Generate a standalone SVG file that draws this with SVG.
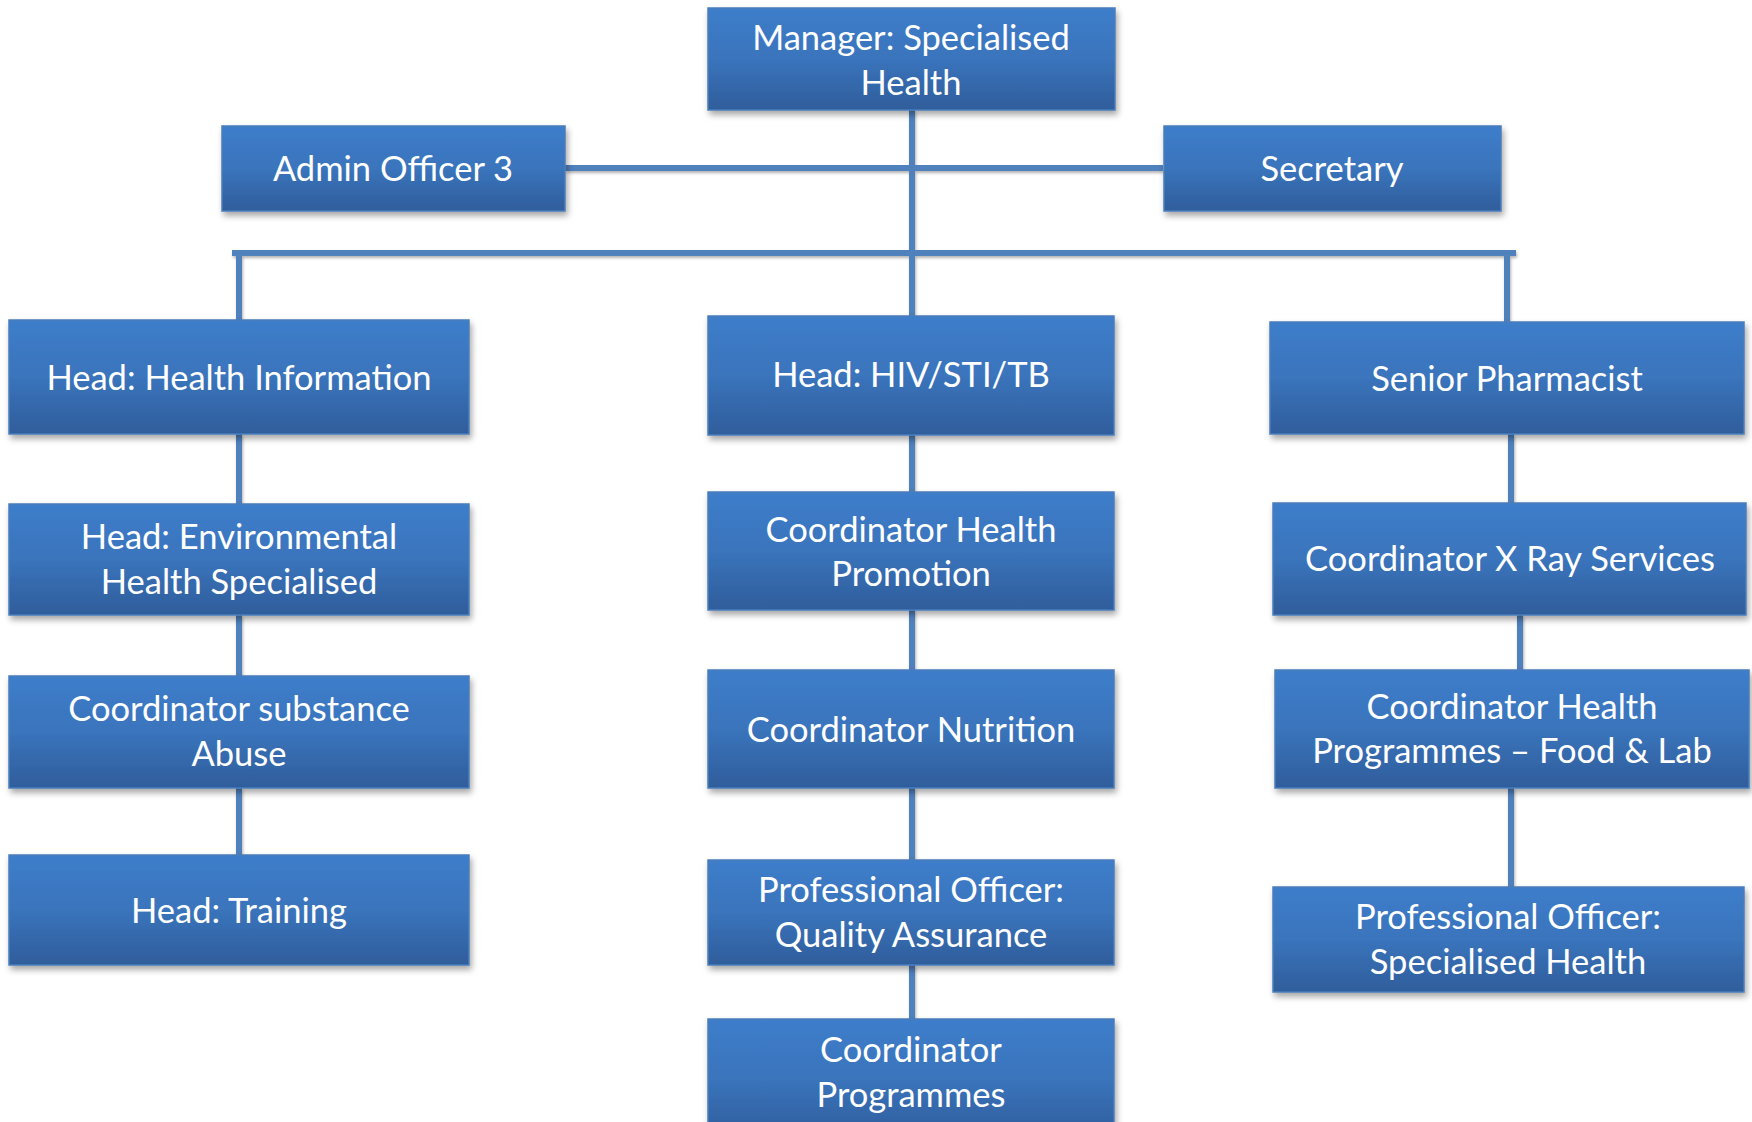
<svg xmlns="http://www.w3.org/2000/svg" width="1752" height="1122" viewBox="0 0 1752 1122">
<defs>
<linearGradient id="g" x1="0" y1="0" x2="0" y2="1">
<stop offset="0" stop-color="#3d7dca"/>
<stop offset="0.5" stop-color="#3a74bc"/>
<stop offset="1" stop-color="#2f5d9b"/>
</linearGradient>
<filter id="sh" x="-10%" y="-20%" width="120%" height="150%">
<feDropShadow dx="2" dy="4" stdDeviation="3" flood-color="#000" flood-opacity="0.35"/>
</filter>
<filter id="lsh" filterUnits="userSpaceOnUse" x="0" y="0" width="1752" height="1122">
<feDropShadow dx="1" dy="2" stdDeviation="1.5" flood-color="#000" flood-opacity="0.3"/>
</filter>
</defs>
<style>
.box{fill:url(#g);stroke:#4a7ebb;stroke-width:1.5;filter:url(#sh)}
.t{font-family:Lato,"Liberation Sans",sans-serif;font-size:34.5px;fill:#ffffff;text-anchor:middle}
.c{stroke:#4f81bd;stroke-width:6;fill:none}
</style>
<rect width="1752" height="1122" fill="#ffffff"/>
<g id="connectors" filter="url(#lsh)">
<line class="c" x1="912" y1="110" x2="912" y2="316"/>
<line class="c" x1="565" y1="168" x2="1163" y2="168"/>
<line class="c" x1="232" y1="253" x2="1516" y2="253"/>
<line class="c" x1="239" y1="253" x2="239" y2="320"/>
<line class="c" x1="1507" y1="253" x2="1507" y2="322"/>
<line class="c" x1="239" y1="434" x2="239" y2="504"/>
<line class="c" x1="239" y1="615" x2="239" y2="676"/>
<line class="c" x1="239" y1="788" x2="239" y2="855"/>
<line class="c" x1="912" y1="435" x2="912" y2="492"/>
<line class="c" x1="912" y1="610" x2="912" y2="670"/>
<line class="c" x1="912" y1="788" x2="912" y2="860"/>
<line class="c" x1="912" y1="965" x2="912" y2="1019"/>
<line class="c" x1="1511" y1="434" x2="1511" y2="503"/>
<line class="c" x1="1520" y1="615" x2="1520" y2="670"/>
<line class="c" x1="1511" y1="788" x2="1511" y2="887"/>
</g>
<g id="manager"><rect class="box" x="708" y="8" width="407" height="102"/><text class="t" x="911" y="50">Manager: Specialised</text><text class="t" x="911" y="95">Health</text></g>
<g id="admin"><rect class="box" x="222" y="126" width="343" height="85"/><text class="t" x="393" y="181">Admin Officer 3</text></g>
<g id="secretary"><rect class="box" x="1164" y="126" width="337" height="85"/><text class="t" x="1332" y="181">Secretary</text></g>
<g id="health-info"><rect class="box" x="9" y="320" width="460" height="114"/><text class="t" x="239" y="390">Head: Health Information</text></g>
<g id="hiv"><rect class="box" x="708" y="316" width="406" height="119"/><text class="t" x="911" y="387">Head: HIV/STI/TB</text></g>
<g id="pharmacist"><rect class="box" x="1270" y="322" width="474" height="112"/><text class="t" x="1507" y="391">Senior Pharmacist</text></g>
<g id="env"><rect class="box" x="9" y="504" width="460" height="111"/><text class="t" x="239" y="549">Head: Environmental</text><text class="t" x="239" y="594">Health Specialised</text></g>
<g id="promotion"><rect class="box" x="708" y="492" width="406" height="118"/><text class="t" x="911" y="542">Coordinator Health</text><text class="t" x="911" y="586">Promotion</text></g>
<g id="xray"><rect class="box" x="1273" y="503" width="473" height="112"/><text class="t" x="1510" y="571">Coordinator X Ray Services</text></g>
<g id="substance"><rect class="box" x="9" y="676" width="460" height="112"/><text class="t" x="239" y="721">Coordinator substance</text><text class="t" x="239" y="766">Abuse</text></g>
<g id="nutrition"><rect class="box" x="708" y="670" width="406" height="118"/><text class="t" x="911" y="742">Coordinator Nutrition</text></g>
<g id="foodlab"><rect class="box" x="1275" y="670" width="474" height="118"/><text class="t" x="1512" y="719">Coordinator Health</text><text class="t" x="1512" y="763">Programmes – Food &amp; Lab</text></g>
<g id="training"><rect class="box" x="9" y="855" width="460" height="110"/><text class="t" x="239" y="923">Head: Training</text></g>
<g id="qa"><rect class="box" x="708" y="860" width="406" height="105"/><text class="t" x="911" y="902">Professional Officer:</text><text class="t" x="911" y="947">Quality Assurance</text></g>
<g id="prof-spec"><rect class="box" x="1273" y="887" width="471" height="105"/><text class="t" x="1508" y="929">Professional Officer:</text><text class="t" x="1508" y="974">Specialised Health</text></g>
<g id="programmes"><rect class="box" x="708" y="1019" width="406" height="120"/><text class="t" x="911" y="1062">Coordinator</text><text class="t" x="911" y="1107">Programmes</text></g>
</svg>
